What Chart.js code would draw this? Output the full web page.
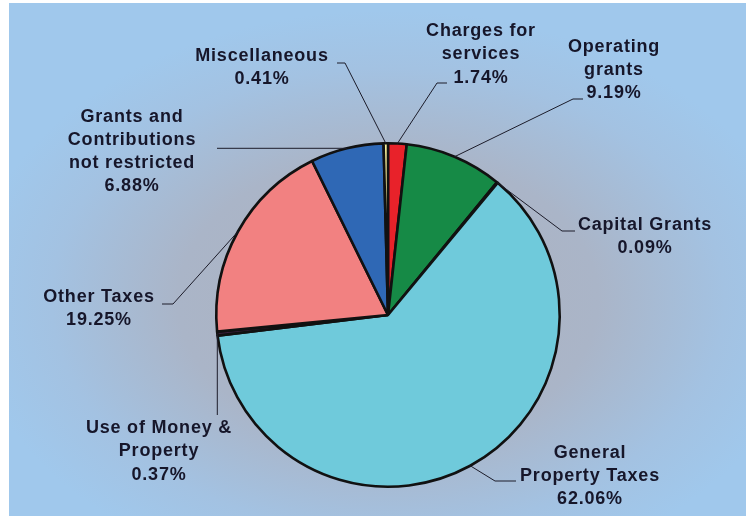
<!DOCTYPE html>
<html>
<head>
<meta charset="utf-8">
<script src="https://cdn.jsdelivr.net/npm/chart.js@4/dist/chart.umd.min.js"></script>
<style>
html,body{margin:0;padding:0;background:#fff;}
#wrap{width:746px;height:516px;position:relative;}
</style>
</head>
<body>
<div id="wrap"><canvas id="c" width="746" height="516"></canvas></div>
<script>
// ---- data ----
const categories = ["Charges for services", "Operating grants", "Capital Grants", "General Property Taxes",
  "Use of Money & Property", "Other Taxes", "Grants and Contributions not restricted", "Miscellaneous"];
const shares = [1.74, 9.19, 0.09, 62.06, 0.37, 19.25, 6.88, 0.41];
const labelLines = [["Charges for", "services"], ["Operating", "grants"], ["Capital Grants"], ["General", "Property Taxes"],
  ["Use of Money &", "Property"], ["Other Taxes"], ["Grants and", "Contributions", "not restricted"], ["Miscellaneous"]];
const sliceColors = ["#e8222a", "#168a46", "#2f7a4a", "#6fcadb", "#3b1f3c", "#f28181", "#2f68b5", "#f6f09a"];

// ---- label layout (text centre x, first line centre y, leader line shape) ----
const labelLayout = [
  { cx: 481, y: 31, step: 23.5, tail: [447, 83], elbow: [437, 83] },
  { cx: 614, y: 47, step: 23, tail: [583, 99], elbow: [573, 99] },
  { cx: 645, y: 225, step: 23, tail: [575, 231], elbow: [562, 231] },
  { cx: 590, y: 453, step: 23, tail: [516, 481], elbow: [495, 481] },
  { cx: 159, y: 428, step: 23.5, vertical: 415 },
  { cx: 99, y: 297, step: 23, tail: [162, 304], elbow: [173, 304] },
  { cx: 132, y: 117, step: 23, horizontal: 217 },
  { cx: 262, y: 56, step: 23, tail: [337, 63], elbow: [345, 63] }
];

const bgPlugin = {
  id: 'bg',
  beforeDraw(chart) {
    const ctx = chart.ctx;
    ctx.save();
    ctx.fillStyle = '#ffffff';
    ctx.fillRect(0, 0, 746, 516);
    ctx.fillStyle = '#a0c8ec';
    ctx.fillRect(9, 3, 737, 513);
    ctx.setTransform(1.45, 0, 0, 1, 388, 300);
    const g = ctx.createRadialGradient(0, 0, 0, 0, 0, 290);
    g.addColorStop(0, '#adb1bd');
    g.addColorStop(0.5, '#aab5c8');
    g.addColorStop(0.8, '#a3c2e2');
    g.addColorStop(1, '#a0c8ec');
    ctx.fillStyle = g;
    ctx.fillRect((9 - 388) / 1.45, 3 - 300, 737 / 1.45, 513);
    ctx.restore();
  }
};

const labelPlugin = {
  id: 'pieLabels',
  afterDatasetsDraw(chart) {
    const ctx = chart.ctx;
    const meta = chart.getDatasetMeta(0);
    ctx.save();
    meta.data.forEach((arc, i) => {
      const L = labelLayout[i];
      const mid = (arc.startAngle + arc.endAngle) / 2;
      const px = arc.x + Math.cos(mid) * arc.outerRadius;
      const py = arc.y + Math.sin(mid) * arc.outerRadius;
      ctx.strokeStyle = '#1c1c2a';
      ctx.lineWidth = 1;
      ctx.beginPath();
      if (L.vertical !== undefined) {
        ctx.moveTo(px, py);
        ctx.lineTo(px, L.vertical);
      } else if (L.horizontal !== undefined) {
        ctx.moveTo(L.horizontal, py);
        ctx.lineTo(px, py);
      } else {
        ctx.moveTo(L.tail[0], L.tail[1]);
        ctx.lineTo(L.elbow[0], L.elbow[1]);
        ctx.lineTo(px, py);
      }
      ctx.stroke();
      const lines = labelLines[i].concat([shares[i].toFixed(2) + '%']);
      ctx.fillStyle = '#16162a';
      ctx.font = 'bold 18px "Liberation Sans", Arial, sans-serif';
      ctx.letterSpacing = '0.8px';
      ctx.textAlign = 'center';
      ctx.textBaseline = 'middle';
      lines.forEach((t, k) => ctx.fillText(t, L.cx, L.y + k * L.step));
    });
    ctx.restore();
  }
};

new Chart(document.getElementById('c'), {
  type: 'pie',
  data: {
    labels: categories,
    datasets: [{
      data: shares,
      backgroundColor: sliceColors,
      borderColor: '#111111',
      borderWidth: 2.6
    }]
  },
  options: {
    responsive: false,
    animation: false,
    rotation: 0,
    layout: { padding: { left: 215, right: 185, top: 142, bottom: 28 } },
    plugins: { legend: { display: false }, tooltip: { enabled: false } }
  },
  plugins: [bgPlugin, labelPlugin]
});
</script>
</body>
</html>
